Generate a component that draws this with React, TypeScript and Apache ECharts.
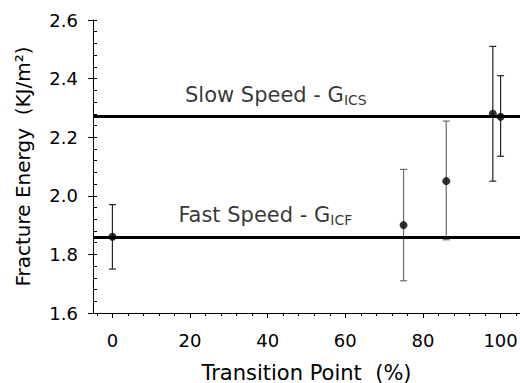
import React, { useEffect, useRef } from "react";
import * as echarts from "echarts";

// ---- data ----
const transitionPoint = [0, 75, 86, 98, 100];
const fractureEnergy = [1.86, 1.9, 2.05, 2.28, 2.27];
const energyLow = [1.75, 1.71, 1.85, 2.05, 2.135];
const energyHigh = [1.97, 2.09, 2.255, 2.51, 2.41];
const slowSpeedG = 2.27;
const fastSpeedG = 1.86;
const xTickValues = [0, 20, 40, 60, 80, 100];
const xMinorTickValues = [-4, 0, 4, 8, 12, 16, 20, 24, 28, 32, 36, 40, 44, 48, 52, 56, 60, 64, 68, 72, 76, 80, 84, 88, 92, 96, 100, 104];
const xMin = -5;
const xMax = 105;
const yMin = 1.6;
const yMax = 2.6;
const yInterval = 0.2;
const slowLabelX = 18.7;
const fastLabelX = 17;
const slowLabelText = ["Slow Speed - G", "ICS"];
const fastLabelText = ["Fast Speed - G", "ICF"];
const xTitle = "Transition Point  (%)";
const yTitle = "Fracture Energy  (KJ/m²)";

const FONT = "DejaVu Sans";

export default function App() {
  const ref = useRef<HTMLDivElement>(null);
  useEffect(() => {
    if (!ref.current) return;
    const chart = echarts.init(ref.current, undefined, { renderer: "svg" });
    const richLabel = {
      m: { fontFamily: FONT, fontSize: 21, color: "#000", lineHeight: 22, verticalAlign: "top" },
      s: { fontFamily: FONT, fontSize: 14, color: "#000", lineHeight: 14, padding: [14, 0, 0, 0], verticalAlign: "bottom" },
    };
    chart.setOption({
      animation: false,
      backgroundColor: "#fff",
      grid: { left: 93, right: 0, top: 20, bottom: 70, containLabel: false, outerBoundsMode: "none" },
      xAxis: [
        {
          type: "value",
          min: xMin,
          max: xMax,
          position: "bottom",
          axisLine: { show: true, onZero: false, lineStyle: { color: "#000", width: 1 } },
          axisTick: { show: true, customValues: xTickValues, length: 5, lineStyle: { color: "#000" } },
          axisLabel: { customValues: xTickValues, fontFamily: FONT, fontSize: 18, color: "#000", margin: 18 },
          splitLine: { show: false },
          name: xTitle,
          nameLocation: "middle",
          nameGap: 49,
          nameTextStyle: { fontFamily: FONT, fontSize: 21, color: "#000" },
        },
        {
          type: "value",
          min: xMin,
          max: xMax,
          position: "bottom",
          axisLine: { show: false, onZero: false },
          axisTick: { show: true, customValues: xMinorTickValues, length: 3, lineStyle: { color: "#000" } },
          axisLabel: { show: false },
          splitLine: { show: false },
        },
      ],
      yAxis: [
        {
          type: "value",
          min: yMin,
          max: yMax,
          interval: yInterval,
          position: "left",
          axisLine: { show: true, onZero: false, lineStyle: { color: "#000", width: 1 } },
          axisTick: { show: true, inside: true, length: 4, lineStyle: { color: "#000" } },
          minorTick: { show: true, splitNumber: 5, length: 4, lineStyle: { color: "#000" } },
          minorSplitLine: { show: false },
          splitLine: { show: false },
          axisLabel: {
            formatter: (v: number) => v.toFixed(1),
            fontFamily: FONT,
            fontSize: 18,
            color: "#000",
            margin: 15,
          },
          name: yTitle,
          nameLocation: "middle",
          nameRotate: 90,
          nameGap: 60,
          nameTextStyle: { fontFamily: FONT, fontSize: 20, color: "#000" },
        },
        {
          type: "value",
          min: yMin,
          max: yMax,
          interval: yInterval,
          position: "left",
          axisLine: { show: false, onZero: false },
          axisTick: { show: true, inside: false, length: 5, lineStyle: { color: "#000" } },
          axisLabel: { show: false },
          splitLine: { show: false },
        },
      ],
      series: [
        {
          type: "line",
          data: [],
          silent: true,
          markLine: {
            silent: true,
            symbol: "none",
            label: { show: false },
            lineStyle: { color: "#000", width: 3, type: "solid" },
            data: [{ yAxis: slowSpeedG }, { yAxis: fastSpeedG }],
          },
        },
        {
          type: "custom",
          data: transitionPoint.map((x, i) => [x, energyLow[i], energyHigh[i]]),
          encode: { x: 0, y: [1, 2] },
          renderItem: (params: any, api: any) => {
            const x = api.value(0);
            const lo = api.coord([x, api.value(1)]);
            const hi = api.coord([x, api.value(2)]);
            const idx = params.dataIndex;
            const color = idx === 1 || idx === 2 ? "#6a6a6a" : "#222";
            const hw = 3.5;
            const style = { stroke: color, lineWidth: 1.2 };
            return {
              type: "group",
              children: [
                { type: "line", shape: { x1: lo[0], y1: lo[1], x2: hi[0], y2: hi[1] }, style },
                { type: "line", shape: { x1: hi[0] - hw, y1: hi[1], x2: hi[0] + hw, y2: hi[1] }, style },
                { type: "line", shape: { x1: lo[0] - hw, y1: lo[1], x2: lo[0] + hw, y2: lo[1] }, style },
              ],
            };
          },
        },
        {
          type: "scatter",
          data: transitionPoint.map((x, i) => [x, fractureEnergy[i]]),
          symbol: "circle",
          symbolSize: 8,
          itemStyle: { color: "#000" },
        },
        {
          type: "scatter",
          symbolSize: 0,
          silent: true,
          data: [
            { value: [slowLabelX, slowSpeedG], label: { formatter: `{m|${slowLabelText[0]}}{s|${slowLabelText[1]}}` } },
            { value: [fastLabelX, fastSpeedG], label: { formatter: `{m|${fastLabelText[0]}}{s|${fastLabelText[1]}}` } },
          ],
          label: {
            show: true,
            position: [0, 0],
            align: "left",
            verticalAlign: "bottom",
            offset: [0, -10],
            rich: richLabel,
          },
        },
      ],
    });
    return () => chart.dispose();
  }, []);
  return <div ref={ref} style={{ position: "fixed", left: 0, top: 0, width: 520, height: 383 }} />;
}
